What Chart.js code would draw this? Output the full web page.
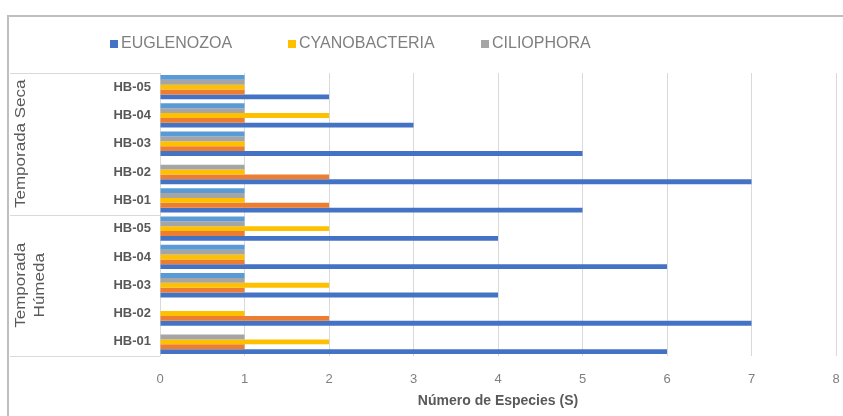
<!DOCTYPE html>
<html>
<head>
<meta charset="utf-8">
<script src="https://cdn.jsdelivr.net/npm/chart.js@4/dist/chart.umd.min.js"></script>
<style>
  html, body { margin: 0; padding: 0; background: #fff; }
  #wrap { width: 843px; height: 416px; position: relative; }
</style>
</head>
<body>
<div id="wrap"><canvas id="chart" width="843" height="416"></canvas></div>
<script>
const categories = ["HB-05", "HB-04", "HB-03", "HB-02", "HB-01", "HB-05", "HB-04", "HB-03", "HB-02", "HB-01"];
const seasons = [["Temporada Seca"], ["Temporada", "Húmeda"]];
const xTicks = [0, 1, 2, 3, 4, 5, 6, 7, 8];

const euglenozoa    = [2, 3, 5, 7, 5, 4, 6, 4, 7, 6];
const serieNaranja  = [1, 1, 1, 2, 2, 1, 1, 1, 2, 1];
const cyanobacteria = [1, 2, 1, 1, 1, 2, 1, 2, 1, 2];
const ciliophora    = [1, 1, 1, 1, 1, 1, 1, 1, 0, 1];
const serieCeleste  = [1, 1, 1, 0, 1, 1, 1, 1, 0, 0];

const legendNames = ["EUGLENOZOA", "CYANOBACTERIA", "CILIOPHORA"];

// legend drawn by hand so the wide spacing of the original can be kept
const legendPlugin = {
  id: "manualLegend",
  afterDraw(chart) {
    const ctx = chart.ctx;
    const items = [
      { text: legendNames[0], color: "#4472C4", x: 110 },
      { text: legendNames[1], color: "#FFC000", x: 288 },
      { text: legendNames[2], color: "#A5A5A5", x: 481 }
    ];
    ctx.save();
    ctx.font = "16px 'Liberation Sans', Arial, sans-serif";
    ctx.textBaseline = "middle";
    items.forEach(it => {
      ctx.fillStyle = it.color;
      ctx.fillRect(it.x, 40, 8, 8);
      ctx.fillStyle = "#7f7f7f";
      ctx.fillText(it.text, it.x + 11, 44);
    });
    ctx.restore();
  }
};

// season labels and separators on the left, like a two-level category axis
const groupPlugin = {
  id: "seasonGroups",
  afterDraw(chart) {
    const ctx = chart.ctx;
    const area = chart.chartArea;
    const y = chart.scales.y;
    const mid = (y.getPixelForValue(4) + y.getPixelForValue(5)) / 2;
    ctx.save();
    ctx.strokeStyle = "#d9d9d9";
    ctx.lineWidth = 1;
    [area.top, mid, area.bottom].forEach(py => {
      ctx.beginPath();
      ctx.moveTo(10, Math.round(py) + 0.5);
      ctx.lineTo(area.left, Math.round(py) + 0.5);
      ctx.stroke();
    });
    ctx.fillStyle = "#595959";
    ctx.font = "17px 'Liberation Sans Narrow', 'Liberation Sans', Arial, sans-serif";
    ctx.textAlign = "center";
    ctx.textBaseline = "middle";
    const centers = [(area.top + mid) / 2, (mid + area.bottom) / 2];
    seasons.forEach((lines, i) => {
      lines.forEach((line, j) => {
        const cx = lines.length === 1 ? 21 : 21 + j * 19;
        ctx.save();
        ctx.translate(cx, centers[i]);
        ctx.rotate(-Math.PI / 2);
        ctx.scale(1.0, 0.85);
        ctx.fillText(line, 0, 0);
        ctx.restore();
      });
    });
    ctx.restore();
  }
};

const borderPlugin = {
  id: "outerBorder",
  beforeDraw(chart) {
    const ctx = chart.ctx;
    ctx.save();
    ctx.strokeStyle = "#bfbfbf";
    ctx.lineWidth = 2;
    ctx.strokeRect(8, 16, 900, 500);
    ctx.restore();
  }
};

new Chart(document.getElementById("chart"), {
  type: "bar",
  data: {
    labels: categories,
    datasets: [
      { label: "Serie 5", data: serieCeleste, backgroundColor: "#5B9BD5" },
      { label: "CILIOPHORA", data: ciliophora, backgroundColor: "#A5A5A5" },
      { label: "CYANOBACTERIA", data: cyanobacteria, backgroundColor: "#FFC000" },
      { label: "Serie 2", data: serieNaranja, backgroundColor: "#ED7D31" },
      { label: "EUGLENOZOA", data: euglenozoa, backgroundColor: "#4472C4" }
    ]
  },
  options: {
    indexAxis: "y",
    responsive: false,
    animation: false,
    datasets: {
      bar: { categoryPercentage: 0.86, barPercentage: 1.0 }
    },
    layout: { padding: { top: 73, right: 7, left: 0, bottom: 0 } },
    plugins: {
      legend: { display: false },
      tooltip: { enabled: false }
    },
    scales: {
      x: {
        min: 0,
        max: 8,
        afterBuildTicks(scale) {
          scale.ticks = xTicks.map(v => ({ value: v }));
        },
        afterFit(scale) {
          scale.height = 60;
          scale.paddingRight = 0;
          scale.paddingLeft = 0;
        },
        grid: { color: "#d9d9d9", drawTicks: false },
        border: { display: false },
        ticks: {
          color: "#7f7f7f",
          padding: 16,
          font: { family: "'Liberation Sans', Arial, sans-serif", size: 13 }
        },
        title: {
          display: true,
          text: "Número de Especies (S)",
          color: "#595959",
          padding: { top: 0, bottom: 6 },
          font: { family: "'Liberation Sans', Arial, sans-serif", size: 14, weight: "bold" }
        }
      },
      y: {
        afterFit(scale) { scale.width = 160; },
        grid: { display: false, drawTicks: false },
        border: { display: false },
        ticks: {
          color: "#595959",
          padding: 9,
          autoSkip: false,
          font: { family: "'Liberation Sans', Arial, sans-serif", size: 13, weight: "bold" }
        }
      }
    }
  },
  plugins: [borderPlugin, legendPlugin, groupPlugin]
});
</script>
</body>
</html>
